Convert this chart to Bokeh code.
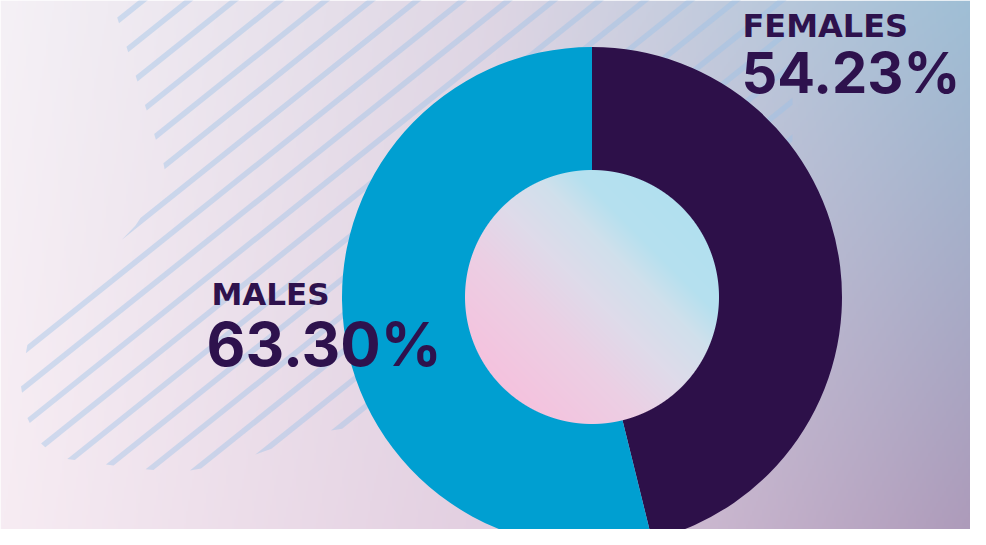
import numpy as np
from bokeh.plotting import figure
from bokeh.models import Range1d, Label, ColumnDataSource
from bokeh.embed import file_html
from bokeh.resources import INLINE

# ---------------- data ----------------
labels = ["FEMALES", "MALES"]
values = [54.23, 63.30]
colors = ["#2d1049", "#009fd1"]

# ---------------- geometry / style ----------------
W_REF, H_REF = 986, 545
CX, CY_SCR = 591.5, 296.5
CY = H_REF - CY_SCR
R_OUT, R_IN = 250.0, 127.0
TEXT_COLOR = "#2e124d"

p = figure(width=970, height=529, x_range=Range1d(0, 970), y_range=Range1d(H_REF - 529, H_REF),
           output_backend="svg", toolbar_location=None, min_border=0,
           x_axis_location=None, y_axis_location=None)
p.grid.visible = False
p.outline_line_color = None
p.border_fill_color = "white"

# ---------------- background gradient ----------------
def lerp(a, b, t):
    return a + (b - a) * t

nx, ny = 493, 273
xs = (np.arange(nx) + 0.5) * W_REF / nx
ys_data = (np.arange(ny) + 0.5) * H_REF / ny
X, YD = np.meshgrid(xs, ys_data)
YS = H_REF - YD
u = X / W_REF
v = YS / H_REF
L_T, L_B = np.array([245, 241, 246.]), np.array([247, 236, 243.])
M_T, M_B = np.array([222, 214, 228.]), np.array([226, 206, 224.])
R_T, R_B = np.array([157, 190, 213.]), np.array([172, 152, 184.])
v3 = v[..., None]
left = lerp(L_T, L_B, v3)
mid = lerp(M_T, M_B, v3)
right = lerp(R_T, R_B, v3)
u3 = u[..., None]
s1 = np.clip(u3 / 0.5, 0, 1)
s2 = np.clip((u3 - 0.5) / 0.5, 0, 1)
col = np.where(u3 < 0.5, lerp(left, mid, s1), lerp(mid, right, s2))
bg = np.empty((ny, nx), dtype=np.uint32)
view = bg.view(dtype=np.uint8).reshape((ny, nx, 4))
view[..., 0] = np.clip(col[..., 0], 0, 255).astype(np.uint8)
view[..., 1] = np.clip(col[..., 1], 0, 255).astype(np.uint8)
view[..., 2] = np.clip(col[..., 2], 0, 255).astype(np.uint8)
view[..., 3] = 255
p.image_rgba(image=[bg], x=0, y=0, dw=W_REF, dh=H_REF)

# ---------------- hatched stripes ----------------
theta = np.deg2rad(38.66)
nrm = np.array([np.sin(theta), np.cos(theta)])  # screen coords normal
region = np.array([(105, -20), (163, 163), (166, 178), (135, 225), (28, 338), (20, 383),
                   (25, 413), (37, 440), (57, 457), (97, 463), (137, 468), (177, 472),
                   (230, 463), (313, 433), (372, 423), (480, 380), (792, 160), (792, -20)],
                  dtype=float)

def clip_half(poly, n, c):
    out = []
    m = len(poly)
    for i in range(m):
        a = poly[i]
        b = poly[(i + 1) % m]
        fa = n @ a - c
        fb = n @ b - c
        if fa >= 0:
            out.append(a)
        if (fa >= 0) != (fb >= 0):
            t = fa / (fa - fb)
            out.append(a + t * (b - a))
    return out

stripe_w = 5.5
sx, sy = [], []
for k in range(-12, 40):
    c = 203.0 + 28.5 * k
    poly = clip_half(list(region), nrm, c - stripe_w / 2)
    if len(poly) < 3:
        continue
    poly = clip_half(poly, -nrm, -(c + stripe_w / 2))
    if len(poly) < 3:
        continue
    arr = np.array(poly)
    sx.append(list(arr[:, 0]))
    sy.append(list(H_REF - arr[:, 1]))
p.patches(sx, sy, fill_color="#9cc0e6", fill_alpha=0.42, line_color=None)

# ---------------- donut ----------------
total = sum(values)
frac_f = values[0] / total
start_f = np.pi / 2 - 2 * np.pi * frac_f
src = ColumnDataSource(dict(
    start=[start_f, np.pi / 2],
    end=[np.pi / 2, start_f + 2 * np.pi],
    color=colors,
    label=labels,
))
p.annular_wedge(x=CX, y=CY, inner_radius=R_IN - 2, outer_radius=R_OUT,
                start_angle="start", end_angle="end", direction="anticlock",
                fill_color="color", line_color=None, source=src)

# ---------------- inner gradient disc ----------------
N = 258
half = N / 2
gx = CX - half + np.arange(N) + 0.5
gy = CY - half + np.arange(N) + 0.5
GX, GY = np.meshgrid(gx, gy)
dx, dy = GX - CX, GY - CY
dist = np.hypot(dx, dy)
alpha = np.clip(R_IN - dist + 0.5, 0, 1)
t = np.clip(((dx + dy) / np.sqrt(2) / R_IN + 1) / 2, 0, 1)
stops_t = [0.0, 0.3, 0.5, 0.68, 0.8, 1.0]
stops_c = np.array([[245, 194, 222], [236, 207, 228], [223, 219, 234],
                    [208, 224, 236], [182, 224, 239], [178, 224, 240]], dtype=float)
ic = np.stack([np.interp(t, stops_t, stops_c[:, j]) for j in range(3)], axis=-1)
disc = np.empty((N, N), dtype=np.uint32)
dv = disc.view(dtype=np.uint8).reshape((N, N, 4))
dv[..., 0] = ic[..., 0].astype(np.uint8)
dv[..., 1] = ic[..., 1].astype(np.uint8)
dv[..., 2] = ic[..., 2].astype(np.uint8)
dv[..., 3] = (alpha * 255).astype(np.uint8)
p.image_rgba(image=[disc], x=CX - half, y=CY - half, dw=N, dh=N)

# ---------------- labels ----------------
def add_text(x, y_scr, txt, font, size_px):
    # compensate the renderer's baseline offset (~0.36 em)
    y_adj = y_scr - 0.36 * size_px
    p.add_layout(Label(x=x, y=H_REF - y_adj, text=txt, text_font=font,
                       text_font_style="bold", text_font_size=f"{size_px}px",
                       text_color=TEXT_COLOR, text_baseline="alphabetic",
                       text_align="left"))

add_text(742, 37, labels[0], "DejaVu Sans", 32)
add_text(741, 93, f"{values[0]:.2f}%", "Inter", 56)
add_text(211, 305, labels[1], "DejaVu Sans", 31)
add_text(206, 365, f"{values[1]:.2f}%", "Inter", 60)

open("out.html", "w").write(file_html(p, INLINE))
